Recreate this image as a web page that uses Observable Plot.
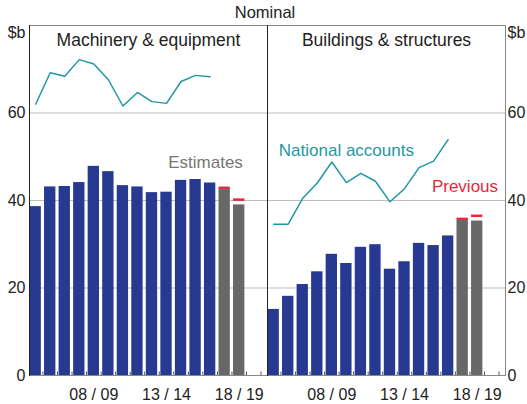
<!DOCTYPE html>
<html>
<head>
<meta charset="utf-8">
<script src="https://cdn.jsdelivr.net/npm/d3@7"></script>
<script src="https://cdn.jsdelivr.net/npm/@observablehq/plot@0.6"></script>
<style>
  body { margin: 0; background: #fff; font-family: "Liberation Sans", Arial, sans-serif; }
  #title { width: 527px; height: 20px; line-height: 20px; font-size: 16.5px; color: #222; text-align: center; padding-left: 3px; box-sizing: border-box; position: relative; top: 2px; }
  #chart svg { display: block; overflow: visible; }
</style>
</head>
<body>
<div id="title">Nominal</div>
<div id="chart"></div>
<script>
const panels = ["Machinery & equipment", "Buildings & structures"];
const years = ["2004/05","2005/06","2006/07","2007/08","2008/09","2009/10","2010/11","2011/12",
               "2012/13","2013/14","2014/15","2015/16","2016/17","2017/18","2018/19","2019/20"];
const labelYears = ["2008/09", "2013/14", "2018/19"];
const estimateYears = ["2017/18", "2018/19"];

// Capex survey bars ($b); last two are estimates
const meBars = [38.6, 43.1, 43.2, 44.1, 47.8, 46.6, 43.4, 43.1, 41.8, 41.9, 44.6, 44.8, 44.0, 42.5, 39.0];
const bsBars = [15.1, 18.1, 20.8, 23.7, 27.7, 25.6, 29.3, 29.9, 24.3, 26.0, 30.2, 29.7, 31.9, 35.5, 35.3];
// Previous estimates
const mePrev = [42.9, 40.2];
const bsPrev = [35.8, 36.5];
// National accounts
const meNA = [62.0, 69.2, 68.4, 72.2, 71.2, 67.6, 61.6, 64.7, 62.6, 62.2, 67.2, 68.6, 68.3];
const bsNA = [34.6, 34.6, 40.5, 44.0, 48.8, 44.1, 46.2, 44.4, 39.7, 42.7, 47.5, 49.0, 53.9];

const blue = "#263a92", grey = "#686868", teal = "#1f98a2", red = "#e8283c";

const bars = [
  ...meBars.map((v, i) => ({panel: panels[0], year: years[i], value: v, status: estimateYears.includes(years[i]) ? "estimate" : "actual"})),
  ...bsBars.map((v, i) => ({panel: panels[1], year: years[i], value: v, status: estimateYears.includes(years[i]) ? "estimate" : "actual"}))
];
const prev = [
  ...mePrev.map((v, i) => ({panel: panels[0], year: estimateYears[i], value: v})),
  ...bsPrev.map((v, i) => ({panel: panels[1], year: estimateYears[i], value: v}))
];
const na = [
  ...meNA.map((v, i) => ({panel: panels[0], year: years[i], value: v})),
  ...bsNA.map((v, i) => ({panel: panels[1], year: years[i], value: v}))
];
const notes = [
  {panel: panels[0], year: "2016/17", value: 48.75, text: "Estimates", color: "#777777", dx: -4.6},
  {panel: panels[1], year: "2009/10", value: 51.4, text: "National accounts", color: teal, dx: 0},
  {panel: panels[1], year: "2017/18", value: 43.2, text: "Previous", color: red, dx: 2.3}
];

const W = 527, mL = 29, mR = 22;
const facetW = (W - mL - mR) / 2;
const pIn = 0.22, pOut = 0.295;
const step = facetW / (years.length - pIn + 2 * pOut);
const fmt = y => y.slice(2, 4) + " / " + y.slice(5);

const chart = Plot.plot({
  width: W, height: 384,
  marginTop: 5, marginBottom: 29, marginLeft: mL, marginRight: mR,
  style: {fontFamily: "'Liberation Sans', Arial, sans-serif", fontSize: "16px", color: "#222", background: "#fff", overflow: "visible"},
  fx: {domain: panels, paddingInner: 0, paddingOuter: 0, round: false, axis: null, label: null},
  x: {domain: years, range: [mL + 0.5, mL + 0.5 + facetW], round: false, paddingInner: pIn, paddingOuter: pOut, align: 0, axis: null, label: null},
  y: {domain: [0, 80], axis: null, label: null},
  color: {domain: ["actual", "estimate"], range: [blue, grey]},
  marks: [
    Plot.ruleY([20, 40, 60], {stroke: "#bdbdbd", strokeWidth: 1}),
    Plot.barY(bars, {fx: "panel", x: "year", y: "value", fill: "status"}),
    Plot.tickY(prev, {fx: "panel", x: "year", y: "value", stroke: red, strokeWidth: 2.5}),
    Plot.line(na, {fx: "panel", x: "year", y: "value", stroke: teal, strokeWidth: 1.5}),
    Plot.ruleX(years.slice(1), {x: d => d, y1: 0, y2: 0.8, dx: -step / 2, stroke: "#555"}),
    Plot.ruleX(years.slice(-1), {x: d => d, y1: 0, y2: 0.8, dx: step / 2, stroke: "#555"}),
    Plot.ruleY([0], {stroke: "#333", strokeWidth: 1.2}),
    Plot.frame({stroke: "#888"}),
    Plot.frame({anchor: "left", stroke: "#222"}),
    Plot.axisY({anchor: "left", ticks: [0, 20, 40, 60], tickSize: 0, tickPadding: 4, label: null, fontSize: 16}),
    Plot.axisY({anchor: "right", ticks: [0, 20, 40, 60], tickSize: 0, tickPadding: 2, label: null, fontSize: 16}),
    Plot.axisY({anchor: "left", ticks: [80], tickFormat: () => "$b", tickSize: 0, tickPadding: 4, dy: 7, label: null, fontSize: 16}),
    Plot.axisY({anchor: "right", ticks: [80], tickFormat: () => "$b", tickSize: 0, tickPadding: 2, dy: 7, label: null, fontSize: 16}),
    Plot.axisX({ticks: labelYears, tickFormat: fmt, tickSize: 0, tickPadding: 13, label: null, fontSize: 16}),
    Plot.text(panels, {fx: d => d, text: d => d, frameAnchor: "top", lineAnchor: "middle", dy: 14.5, fontSize: 17.5, fill: "#222"}),
    ...notes.map(n => Plot.text([n], {fx: "panel", x: "year", y: "value", text: "text", fill: n.color, dx: n.dx, fontSize: 17}))
  ]
});
document.getElementById("chart").appendChild(chart);
</script>
</body>
</html>
